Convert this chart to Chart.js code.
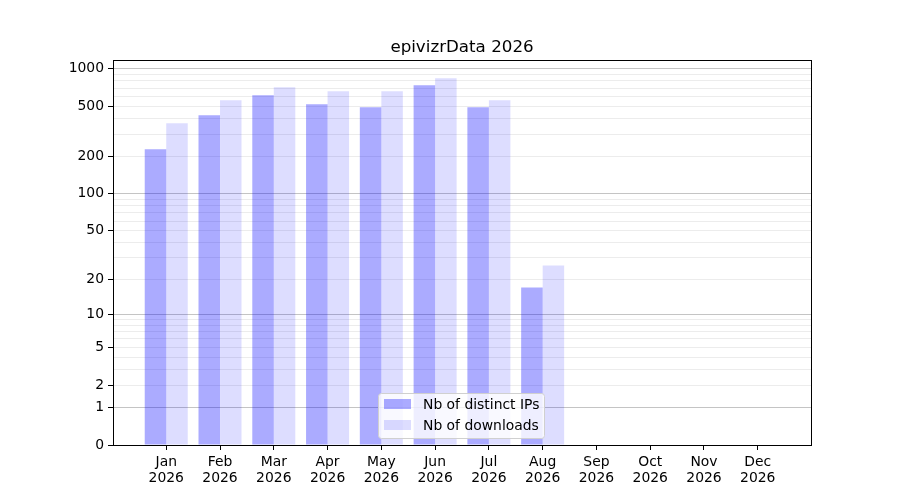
<!DOCTYPE html>
<html>
<head>
<meta charset="utf-8">
<script src="https://cdn.jsdelivr.net/npm/chart.js@4.4.1/dist/chart.umd.min.js"></script>
<style>
  body { margin: 0; background: #fff; }
</style>
</head>
<body>
<canvas id="myBarChart" width="900" height="500"></canvas>
<script>
// data
var months = ['Jan', 'Feb', 'Mar', 'Apr', 'May', 'Jun', 'Jul', 'Aug', 'Sep', 'Oct', 'Nov', 'Dec'];
var year = '2026';
var distinctIPs = [227, 425, 613, 519, 491, 736, 491, 17, 0, 0, 0, 0];
var downloads = [366, 559, 710, 660, 660, 837, 559, 26, 0, 0, 0, 0];
var labelTicks = [0, 1, 2, 5, 10, 20, 50, 100, 200, 500, 1000];
var minorTicks = [3, 4, 6, 7, 8, 9, 30, 40, 60, 70, 80, 90, 300, 400, 600, 700, 800, 900];
var darkGrid = [1, 10, 100, 1000];
var chartTitle = 'epivizrData 2026';
var seriesNames = ['Nb of distinct IPs', 'Nb of downloads'];

var FONT = '"DejaVu Sans", sans-serif';
var colIP = 'rgba(0, 0, 255, 0.33)';
var colDL = 'rgba(0, 0, 255, 0.135)';

// log10(1 + x) axis, same as the picture
function tr(v) { return Math.log10(1 + v); }

function points(arr) {
    return arr.map(function (v, i) { return { x: i, y: tr(v) }; });
}

var allTicks = labelTicks.concat(minorTicks).sort(function (a, b) { return a - b; });
var yMax = tr(Math.max.apply(null, distinctIPs.concat(downloads))) * 1.05;
var xPad = 0.4 + 0.05 * (months.length - 1 + 0.8);

function isIn(list, value) {
    return list.some(function (t) { return Math.abs(tr(t) - value) < 1e-9; });
}

var framePlugin = {
    id: 'frame',
    afterDraw: function (chart) {
        var ctx = chart.ctx;
        var a = chart.chartArea;
        ctx.save();
        // frame
        ctx.strokeStyle = '#000';
        ctx.lineWidth = 1;
        ctx.strokeRect(Math.round(a.left) + 0.5, Math.round(a.top) + 0.5,
            Math.round(a.right - a.left), Math.round(a.bottom - a.top));

        // title
        ctx.fillStyle = '#000';
        ctx.font = '16.7px ' + FONT;
        ctx.textAlign = 'center';
        ctx.textBaseline = 'alphabetic';
        ctx.fillText(chartTitle, (a.left + a.right) / 2, a.top - 8);

        // legend
        var bx = a.left + 265, by = a.top + 333, bw = 166, bh = 45;
        ctx.beginPath();
        ctx.roundRect(bx + 0.5, by + 0.5, bw, bh, 3);
        ctx.fillStyle = 'rgba(255,255,255,0.8)';
        ctx.fill();
        ctx.strokeStyle = '#d0d0d0';
        ctx.stroke();
        var cols = [colIP, colDL];
        ctx.font = '13.9px ' + FONT;
        ctx.textAlign = 'left';
        ctx.textBaseline = 'middle';
        for (var i = 0; i < seriesNames.length; i++) {
            var py = by + 6 + i * 21;
            ctx.fillStyle = cols[i];
            ctx.fillRect(bx + 6, py, 27, 10);
            ctx.fillStyle = '#000';
            ctx.fillText(seriesNames[i], bx + 45, py + 6);
        }
        ctx.restore();
    }
};

var ctx = document.getElementById('myBarChart').getContext('2d');
var myBarChart = new Chart(ctx, {
    type: 'bar',
    data: {
        datasets: [{
            label: seriesNames[0],
            data: points(distinctIPs),
            backgroundColor: colIP,
            borderWidth: 0,
            barPercentage: 1.0,
            categoryPercentage: 0.8
        }, {
            label: seriesNames[1],
            data: points(downloads),
            backgroundColor: colDL,
            borderWidth: 0,
            barPercentage: 1.0,
            categoryPercentage: 0.8
        }]
    },
    options: {
        responsive: false,
        animation: false,
        layout: { padding: { top: 60, right: 89, bottom: 0, left: 0 } },
        plugins: {
            legend: { display: false },
            title: { display: false },
            tooltip: { enabled: false }
        },
        scales: {
            x: {
                type: 'linear',
                min: -xPad,
                max: months.length - 1 + xPad,
                offset: false,
                border: { display: false },
                grid: {
                    offset: false,
                    drawOnChartArea: false,
                    tickLength: 5,
                    tickColor: '#000'
                },
                afterBuildTicks: function (scale) {
                    scale.ticks = months.map(function (m, i) { return { value: i }; });
                },
                afterFit: function (scale) { scale.height = 55; },
                ticks: {
                    autoSkip: false,
                    maxRotation: 0,
                    padding: 4,
                    color: '#000',
                    font: { family: FONT, size: 13.9, lineHeight: 1.17 },
                    callback: function (v) { return [months[v], year]; }
                }
            },
            y: {
                type: 'linear',
                min: 0,
                max: yMax,
                border: { display: false },
                grid: {
                    tickLength: 5,
                    color: function (c) {
                        return isIn(darkGrid, c.tick.value) ? '#c4c4c4' : '#ececec';
                    },
                    tickColor: function (c) {
                        return isIn(labelTicks, c.tick.value) ? '#000' : 'rgba(0,0,0,0)';
                    }
                },
                afterBuildTicks: function (scale) {
                    scale.ticks = allTicks.map(function (t) { return { value: tr(t) }; });
                },
                afterFit: function (scale) { scale.width = 113; },
                ticks: {
                    autoSkip: false,
                    padding: 4,
                    color: '#000',
                    font: { family: FONT, size: 13.9 },
                    callback: function (v) {
                        for (var i = 0; i < labelTicks.length; i++) {
                            if (Math.abs(tr(labelTicks[i]) - v) < 1e-9) return String(labelTicks[i]);
                        }
                        return '';
                    }
                }
            }
        }
    },
    plugins: [framePlugin]
});
</script>
</body>
</html>
